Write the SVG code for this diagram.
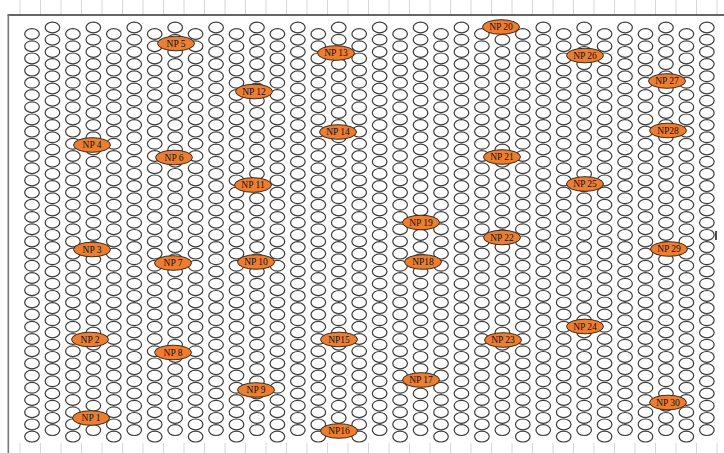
<svg xmlns="http://www.w3.org/2000/svg" xmlns:xlink="http://www.w3.org/1999/xlink" width="724" height="453" viewBox="0 0 724 453">
<style>
.r{fill:none;stroke:#3c3c3c;stroke-width:1.2}
.np{fill:#ED7D31;stroke:#3d2a1a;stroke-width:1}
.t{font-family:"Liberation Serif","Times New Roman",serif;font-size:9.5px;fill:#111111;text-anchor:middle;dominant-baseline:central}
.tk{stroke:#d6d6d6;stroke-width:1}
</style>
<defs>
<g id="c">
<ellipse class="r" cx="0" cy="0" rx="7.3" ry="5.4"/>
<ellipse class="r" cx="0" cy="12.2" rx="7.3" ry="5.4"/>
<ellipse class="r" cx="0" cy="24.4" rx="7.3" ry="5.4"/>
<ellipse class="r" cx="0" cy="36.6" rx="7.3" ry="5.4"/>
<ellipse class="r" cx="0" cy="48.8" rx="7.3" ry="5.4"/>
<ellipse class="r" cx="0" cy="61" rx="7.3" ry="5.4"/>
<ellipse class="r" cx="0" cy="73.2" rx="7.3" ry="5.4"/>
<ellipse class="r" cx="0" cy="85.4" rx="7.3" ry="5.4"/>
<ellipse class="r" cx="0" cy="97.6" rx="7.3" ry="5.4"/>
<ellipse class="r" cx="0" cy="109.8" rx="7.3" ry="5.4"/>
<ellipse class="r" cx="0" cy="122" rx="7.3" ry="5.4"/>
<ellipse class="r" cx="0" cy="134.2" rx="7.3" ry="5.4"/>
<ellipse class="r" cx="0" cy="146.4" rx="7.3" ry="5.4"/>
<ellipse class="r" cx="0" cy="158.6" rx="7.3" ry="5.4"/>
<ellipse class="r" cx="0" cy="170.8" rx="7.3" ry="5.4"/>
<ellipse class="r" cx="0" cy="183" rx="7.3" ry="5.4"/>
<ellipse class="r" cx="0" cy="195.2" rx="7.3" ry="5.4"/>
<ellipse class="r" cx="0" cy="207.4" rx="7.3" ry="5.4"/>
<ellipse class="r" cx="0" cy="219.6" rx="7.3" ry="5.4"/>
<ellipse class="r" cx="0" cy="231.8" rx="7.3" ry="5.4"/>
<ellipse class="r" cx="0" cy="244" rx="7.3" ry="5.4"/>
<ellipse class="r" cx="0" cy="256.2" rx="7.3" ry="5.4"/>
<ellipse class="r" cx="0" cy="268.4" rx="7.3" ry="5.4"/>
<ellipse class="r" cx="0" cy="280.6" rx="7.3" ry="5.4"/>
<ellipse class="r" cx="0" cy="292.8" rx="7.3" ry="5.4"/>
<ellipse class="r" cx="0" cy="305" rx="7.3" ry="5.4"/>
<ellipse class="r" cx="0" cy="317.2" rx="7.3" ry="5.4"/>
<ellipse class="r" cx="0" cy="329.4" rx="7.3" ry="5.4"/>
<ellipse class="r" cx="0" cy="341.6" rx="7.3" ry="5.4"/>
<ellipse class="r" cx="0" cy="353.8" rx="7.3" ry="5.4"/>
<ellipse class="r" cx="0" cy="366" rx="7.3" ry="5.4"/>
<ellipse class="r" cx="0" cy="378.2" rx="7.3" ry="5.4"/>
<ellipse class="r" cx="0" cy="390.4" rx="7.3" ry="5.4"/>
<ellipse class="r" cx="0" cy="402.6" rx="7.3" ry="5.4"/>
</g>
</defs>
<rect width="724" height="453" fill="#ffffff"/>
<g id="ticks">
<path class="tk" d="M20,0V15M40.5,0V15M61,0V15M81.5,0V15M102,0V15M122.5,0V15M143,0V15M163.5,0V15M184,0V15M204.5,0V15M225,0V15M245.5,0V15M266,0V15M286.5,0V15M307,0V15M327.5,0V15M348,0V15M368.5,0V15M389,0V15M409.5,0V15M430,0V15M450.5,0V15M471,0V15M491.5,0V15M512,0V15M532.5,0V15M553,0V15M573.5,0V15M594,0V15M614.5,0V15M635,0V15M655.5,0V15M676,0V15M696.5,0V15M717,0V15"/>
<path class="tk" d="M20,443V453M40.5,443V453M61,443V453M81.5,443V453M102,443V453M122.5,443V453M143,443V453M163.5,443V453M184,443V453M204.5,443V453M225,443V453M245.5,443V453M266,443V453M286.5,443V453M307,443V453M327.5,443V453M348,443V453M368.5,443V453M389,443V453M409.5,443V453M430,443V453M450.5,443V453M471,443V453M491.5,443V453M512,443V453M532.5,443V453M553,443V453M573.5,443V453M594,443V453M614.5,443V453M635,443V453M655.5,443V453M676,443V453M696.5,443V453M717,443V453"/>
</g>
<g id="frame">
<line x1="7.5" y1="15" x2="724" y2="15" stroke="#333333" stroke-width="1.3"/>
<line x1="8.3" y1="15" x2="8.3" y2="453" stroke="#7a7a7a" stroke-width="1.6"/>
<line x1="716" y1="231" x2="716" y2="240" stroke="#111111" stroke-width="1.5"/>
</g>
<g id="grid">
<use xlink:href="#c" transform="translate(32,34)"/>
<use xlink:href="#c" transform="translate(52.45,27.5)"/>
<use xlink:href="#c" transform="translate(72.9,34)"/>
<use xlink:href="#c" transform="translate(93.35,27.5)"/>
<use xlink:href="#c" transform="translate(113.8,34)"/>
<use xlink:href="#c" transform="translate(134.25,27.5)"/>
<use xlink:href="#c" transform="translate(154.7,34)"/>
<use xlink:href="#c" transform="translate(175.15,27.5)"/>
<use xlink:href="#c" transform="translate(195.6,34)"/>
<use xlink:href="#c" transform="translate(216.05,27.5)"/>
<use xlink:href="#c" transform="translate(236.5,34)"/>
<use xlink:href="#c" transform="translate(256.95,27.5)"/>
<use xlink:href="#c" transform="translate(277.4,34)"/>
<use xlink:href="#c" transform="translate(297.85,27.5)"/>
<use xlink:href="#c" transform="translate(318.3,34)"/>
<use xlink:href="#c" transform="translate(338.75,27.5)"/>
<use xlink:href="#c" transform="translate(359.2,34)"/>
<use xlink:href="#c" transform="translate(379.65,27.5)"/>
<use xlink:href="#c" transform="translate(400.1,34)"/>
<use xlink:href="#c" transform="translate(420.55,27.5)"/>
<use xlink:href="#c" transform="translate(441,34)"/>
<use xlink:href="#c" transform="translate(461.45,27.5)"/>
<use xlink:href="#c" transform="translate(481.9,34)"/>
<use xlink:href="#c" transform="translate(502.35,27.5)"/>
<use xlink:href="#c" transform="translate(522.8,34)"/>
<use xlink:href="#c" transform="translate(543.25,27.5)"/>
<use xlink:href="#c" transform="translate(563.7,34)"/>
<use xlink:href="#c" transform="translate(584.15,27.5)"/>
<use xlink:href="#c" transform="translate(604.6,34)"/>
<use xlink:href="#c" transform="translate(625.05,27.5)"/>
<use xlink:href="#c" transform="translate(645.5,34)"/>
<use xlink:href="#c" transform="translate(665.95,27.5)"/>
<use xlink:href="#c" transform="translate(686.4,34)"/>
<use xlink:href="#c" transform="translate(706.85,27.5)"/>
</g>
<g id="np1"><ellipse class="np" cx="91" cy="418" rx="18.5" ry="7.3"/><text class="t" x="91" y="418">NP 1</text></g>
<g id="np2"><ellipse class="np" cx="90" cy="339.5" rx="18.5" ry="7.3"/><text class="t" x="90" y="339.5">NP 2</text></g>
<g id="np3"><ellipse class="np" cx="92" cy="249.5" rx="18.5" ry="7.3"/><text class="t" x="92" y="249.5">NP 3</text></g>
<g id="np4"><ellipse class="np" cx="92" cy="145" rx="18.5" ry="7.3"/><text class="t" x="92" y="145">NP 4</text></g>
<g id="np5"><ellipse class="np" cx="176" cy="43.5" rx="18.5" ry="7.3"/><text class="t" x="176" y="43.5">NP 5</text></g>
<g id="np6"><ellipse class="np" cx="174" cy="157.5" rx="18.5" ry="7.3"/><text class="t" x="174" y="157.5">NP 6</text></g>
<g id="np7"><ellipse class="np" cx="173" cy="263" rx="18.5" ry="7.3"/><text class="t" x="173" y="263">NP 7</text></g>
<g id="np8"><ellipse class="np" cx="173" cy="352.5" rx="18.5" ry="7.3"/><text class="t" x="173" y="352.5">NP 8</text></g>
<g id="np9"><ellipse class="np" cx="256" cy="390" rx="18.5" ry="7.3"/><text class="t" x="256" y="390">NP 9</text></g>
<g id="np10"><ellipse class="np" cx="256" cy="262" rx="18.5" ry="7.3"/><text class="t" x="256" y="262">NP 10</text></g>
<g id="np11"><ellipse class="np" cx="253" cy="185" rx="18.5" ry="7.3"/><text class="t" x="253" y="185">NP 11</text></g>
<g id="np12"><ellipse class="np" cx="254" cy="91.5" rx="18.5" ry="7.3"/><text class="t" x="254" y="91.5">NP 12</text></g>
<g id="np13"><ellipse class="np" cx="336" cy="53" rx="18.5" ry="7.3"/><text class="t" x="336" y="53">NP 13</text></g>
<g id="np14"><ellipse class="np" cx="338" cy="132" rx="18.5" ry="7.3"/><text class="t" x="338" y="132">NP 14</text></g>
<g id="np15"><ellipse class="np" cx="339" cy="339.5" rx="18.5" ry="7.3"/><text class="t" x="339" y="339.5">NP15</text></g>
<g id="np16"><ellipse class="np" cx="339" cy="431" rx="18.5" ry="7.3"/><text class="t" x="339" y="431">NP16</text></g>
<g id="np17"><ellipse class="np" cx="421" cy="380" rx="18.5" ry="7.3"/><text class="t" x="421" y="380">NP 17</text></g>
<g id="np18"><ellipse class="np" cx="423" cy="262" rx="18.5" ry="7.3"/><text class="t" x="423" y="262">NP18</text></g>
<g id="np19"><ellipse class="np" cx="421" cy="222.5" rx="18.5" ry="7.3"/><text class="t" x="421" y="222.5">NP 19</text></g>
<g id="np20"><ellipse class="np" cx="501" cy="27" rx="18.5" ry="7.3"/><text class="t" x="501" y="27">NP 20</text></g>
<g id="np21"><ellipse class="np" cx="502" cy="157" rx="18.5" ry="7.3"/><text class="t" x="502" y="157">NP 21</text></g>
<g id="np22"><ellipse class="np" cx="502" cy="237.5" rx="18.5" ry="7.3"/><text class="t" x="502" y="237.5">NP 22</text></g>
<g id="np23"><ellipse class="np" cx="503" cy="340" rx="18.5" ry="7.3"/><text class="t" x="503" y="340">NP 23</text></g>
<g id="np24"><ellipse class="np" cx="585" cy="326.5" rx="18.5" ry="7.3"/><text class="t" x="585" y="326.5">NP 24</text></g>
<g id="np25"><ellipse class="np" cx="585" cy="184" rx="18.5" ry="7.3"/><text class="t" x="585" y="184">NP 25</text></g>
<g id="np26"><ellipse class="np" cx="585" cy="55.5" rx="18.5" ry="7.3"/><text class="t" x="585" y="55.5">NP 26</text></g>
<g id="np27"><ellipse class="np" cx="667" cy="81" rx="18.5" ry="7.3"/><text class="t" x="667" y="81">NP 27</text></g>
<g id="np28"><ellipse class="np" cx="668" cy="130.5" rx="18.5" ry="7.3"/><text class="t" x="668" y="130.5">NP28</text></g>
<g id="np29"><ellipse class="np" cx="669" cy="249" rx="18.5" ry="7.3"/><text class="t" x="669" y="249">NP 29</text></g>
<g id="np30"><ellipse class="np" cx="668" cy="402.5" rx="18.5" ry="7.3"/><text class="t" x="668" y="402.5">NP 30</text></g>
</svg>
